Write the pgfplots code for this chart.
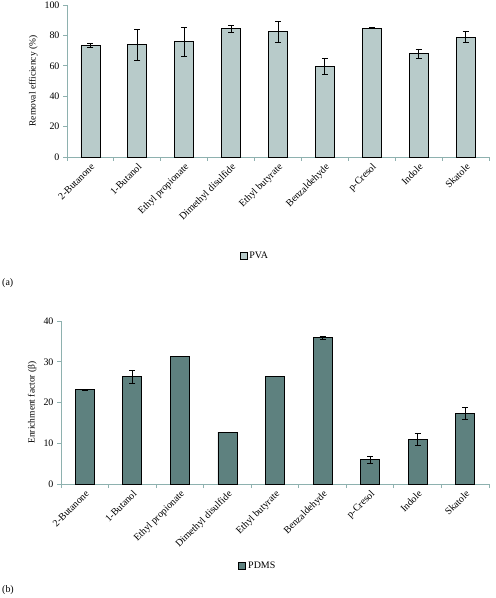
\documentclass[border=0pt]{standalone}
\usepackage{fontspec}
\setmainfont{Liberation Serif}
\usepackage{pgfplots}
\pgfplotsset{compat=1.18}
\definecolor{pvafill}{HTML}{B8CBCA}
\definecolor{pdmsfill}{HTML}{5E817F}
\definecolor{axcol}{HTML}{8EB1AF}
\pgfplotsset{
  mystyle/.style={
    scale only axis,
    anchor=south west,
    xmin=-0.5, xmax=8.5, ymin=0,
    axis x line*=bottom, axis y line*=left,
    axis line style={-, draw=axcol, line width=0.8bp},
    xtick={0,...,8},
    xticklabels={2-Butanone,1-Butanol,Ethyl propionate,Dimethyl disulfide,Ethyl butyrate,Benzaldehyde,p-Cresol,Indole,Skatole},
    xticklabel style={rotate=45, anchor=north east, inner sep=1bp, font=\fontsize{10}{12}\selectfont},
    xtick style={draw=none},
    minor xtick={-0.5,0.5,...,8.5},
    minor x tick style={draw=axcol, line width=0.8bp},
    ytick style={draw=axcol, line width=0.8bp},
    tick align=outside,
    major tick length=4bp, minor tick length=4bp,
    yticklabel style={font=\fontsize{10}{12}\selectfont},
    /pgf/number format/assume math mode=true,
    ylabel style={font=\fontsize{9.5}{11}\selectfont},
    ybar, bar width=19bp,
    legend style={draw=none, fill=none, font=\fontsize{10}{12}\selectfont, anchor=center},
    legend image code/.code={\draw[#1] (0bp,-3.5bp) rectangle (7bp,3.5bp);},
    error bars/error bar style={black, line width=0.8bp},
    error bars/error mark options={rotate=90, mark size=3bp, black, line width=0.8bp},
    clip=false,
  }
}
\begin{document}
\begin{tikzpicture}
\useasboundingbox (0bp,0bp) rectangle (496bp,598bp);
\begin{axis}[mystyle,
  at={(67bp,441bp)}, width=422bp, height=152bp,
  ymax=100, ytick={0,20,...,100},
  ylabel={Removal efficiency (\%)},
  legend style={at={(0.445,-0.65)}},
]
\addplot[fill=pvafill, draw=black, line width=0.8bp,
  error bars/.cd, y dir=both, y explicit]
  coordinates {
  (0,73.3) +- (0,1.5)
  (1,74.0) +- (0,10.2)
  (2,75.8) +- (0,9.3)
  (3,84.4) +- (0,2.2)
  (4,82.4) +- (0,6.8)
  (5,59.6) +- (0,5.5)
  (6,84.8) +- (0,0.5)
  (7,68.1) +- (0,3.0)
  (8,78.7) +- (0,3.6)
  };
\addlegendentry{PVA}
\end{axis}
\node[anchor=west, font=\fontsize{10}{12}\selectfont, inner sep=0pt] at (2bp,315bp) {(a)};
\begin{axis}[mystyle,
  at={(61bp,114bp)}, width=428bp, height=163bp,
  ymax=40, ytick={0,10,...,40},
  ylabel={Enrichment factor (β)},
  legend style={at={(0.46,-0.5)}},
]
\addplot[fill=pdmsfill, draw=black, line width=0.8bp,
  error bars/.cd, y dir=both, y explicit]
  coordinates {
  (0,23.1) +- (0,0.2)
  (1,26.3) +- (0,1.55)
  (2,31.3) +- (0,0.1)
  (3,12.7) +- (0,0.05)
  (4,26.4) +- (0,0.1)
  (5,35.9) +- (0,0.3)
  (6,6.0) +- (0,0.85)
  (7,10.9) +- (0,1.5)
  (8,17.3) +- (0,1.5)
  };
\addlegendentry{PDMS}
\end{axis}
\node[anchor=west, font=\fontsize{10}{12}\selectfont, inner sep=0pt] at (2bp,8bp) {(b)};
\end{tikzpicture}
\end{document}
